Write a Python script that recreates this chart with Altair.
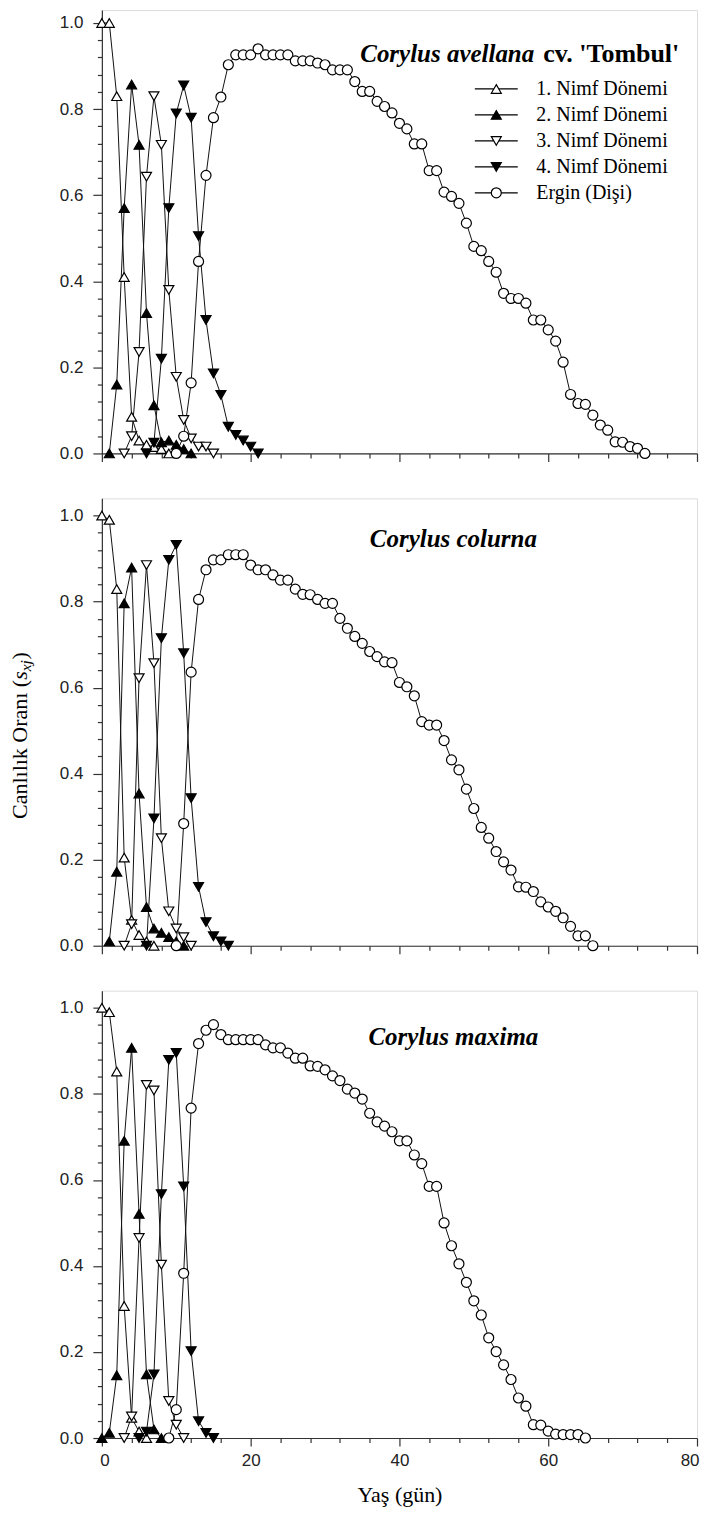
import altair as alt
import pandas as pd

SERIES = ["1. Nimf Dönemi", "2. Nimf Dönemi", "3. Nimf Dönemi", "4. Nimf Dönemi", "Ergin (Dişi)"]
SHAPES = ["triangle-up", "triangle-up", "triangle-down", "triangle-down", "circle"]
FILLS = ["white", "black", "white", "black", "white"]
STROKES = ["black", "black", "black", "black", "black"]

# ---- Panel 1: Corylus avellana cv. 'Tombul' (first day, values per day)
TOMBUL_N1_START = 0
TOMBUL_N1 = [1.0, 1.0, 0.83, 0.41, 0.085, 0.03, 0.02, 0.015, 0.01, 0.0]
TOMBUL_N2_START = 1
TOMBUL_N2 = [0.0, 0.16, 0.57, 0.857, 0.717, 0.326, 0.112, 0.026, 0.03, 0.02, 0.01, 0.0]
TOMBUL_N3_START = 3
TOMBUL_N3 = [0.0, 0.04, 0.236, 0.643, 0.83, 0.717, 0.38, 0.178, 0.078, 0.035, 0.016, 0.016, 0.0]
TOMBUL_N4_START = 6
TOMBUL_N4 = [0.0, 0.025, 0.22, 0.57, 0.79, 0.855, 0.78, 0.505, 0.31, 0.186, 0.136, 0.062,
             0.043, 0.03, 0.016, 0.0]
TOMBUL_AD_START = 10
TOMBUL_AD = [0.0, 0.04, 0.164, 0.446, 0.646, 0.78, 0.828, 0.903, 0.926, 0.926,
             0.926, 0.94, 0.926, 0.926, 0.926, 0.926, 0.912, 0.912, 0.912, 0.907,
             0.903, 0.891, 0.891, 0.891, 0.864, 0.841, 0.841, 0.818, 0.806, 0.791,
             0.767, 0.754, 0.719, 0.719, 0.657, 0.657, 0.607, 0.597, 0.581, 0.535,
             0.481, 0.471, 0.446, 0.421, 0.372, 0.360, 0.360, 0.349, 0.310, 0.310,
             0.287, 0.261, 0.212, 0.137, 0.116, 0.114, 0.089, 0.066, 0.054, 0.027,
             0.026, 0.016, 0.012, 0.0]

# ---- Panel 2: Corylus colurna
COLURNA_N1_START = 0
COLURNA_N1 = [1.0, 0.99, 0.829, 0.205, 0.06, 0.025, 0.01, 0.0]
COLURNA_N2_START = 1
COLURNA_N2 = [0.01, 0.172, 0.796, 0.879, 0.354, 0.09, 0.04, 0.03, 0.02, 0.01, 0.0]
COLURNA_N3_START = 3
COLURNA_N3 = [0.0, 0.05, 0.622, 0.885, 0.657, 0.25, 0.08, 0.04, 0.02, 0.0]
COLURNA_N4_START = 6
COLURNA_N4 = [0.0, 0.296, 0.715, 0.897, 0.932, 0.68, 0.343, 0.137, 0.055, 0.022, 0.01, 0.0]
COLURNA_AD_START = 10
COLURNA_AD = [0.0, 0.284, 0.636, 0.805, 0.874, 0.897, 0.897, 0.909, 0.909, 0.909,
              0.885, 0.874, 0.874, 0.862, 0.85, 0.85, 0.829, 0.817, 0.816, 0.805,
              0.796, 0.796, 0.761, 0.738, 0.719, 0.703, 0.684, 0.672, 0.660, 0.658,
              0.612, 0.602, 0.581, 0.521, 0.513, 0.513, 0.477, 0.432, 0.409, 0.364,
              0.319, 0.275, 0.250, 0.219, 0.195, 0.176, 0.137, 0.136, 0.126, 0.102,
              0.09, 0.08, 0.065, 0.045, 0.023, 0.023, 0.0]

# ---- Panel 3: Corylus maxima
MAXIMA_N1_START = 0
MAXIMA_N1 = [1.0, 0.99, 0.852, 0.307, 0.047, 0.015, 0.0]
MAXIMA_N2_START = 0
MAXIMA_N2 = [0.0, 0.012, 0.146, 0.691, 0.907, 0.521, 0.148, 0.02, 0.0]
MAXIMA_N3_START = 3
MAXIMA_N3 = [0.0, 0.05, 0.465, 0.821, 0.808, 0.403, 0.086, 0.031, 0.0]
MAXIMA_N4_START = 5
MAXIMA_N4 = [0.0, 0.015, 0.148, 0.567, 0.879, 0.895, 0.585, 0.202, 0.039, 0.012, 0.0]
MAXIMA_AD_START = 9
MAXIMA_AD = [0.0, 0.066, 0.383, 0.767, 0.917, 0.948, 0.961, 0.938, 0.926, 0.926,
             0.926, 0.926, 0.926, 0.914, 0.907, 0.907, 0.895, 0.883, 0.883, 0.865,
             0.864, 0.856, 0.842, 0.831, 0.811, 0.802, 0.788, 0.755, 0.735, 0.725,
             0.712, 0.691, 0.691, 0.658, 0.638, 0.585, 0.585, 0.500, 0.447, 0.405,
             0.362, 0.319, 0.286, 0.233, 0.201, 0.170, 0.136, 0.093, 0.074, 0.031,
             0.030, 0.016, 0.009, 0.008, 0.008, 0.008, 0.0]

X_MAJOR = [0, 20, 40, 60, 80]
X_MINOR = [4, 8, 12, 16, 24, 28, 32, 36, 44, 48, 52, 56, 64, 68, 72, 76]
Y_MAJOR = [0.0, 0.2, 0.4, 0.6, 0.8, 1.0]
Y_MINOR = [0.04, 0.08, 0.12, 0.16, 0.24, 0.28, 0.32, 0.36, 0.44, 0.48, 0.52, 0.56,
           0.64, 0.68, 0.72, 0.76, 0.84, 0.88, 0.92, 0.96]

TITLE1_ITALIC = "Corylus avellana"
TITLE1_PLAIN = "cv. 'Tombul'"
TITLE2 = "Corylus colurna"
TITLE3 = "Corylus maxima"
YTITLE_PARTS = ["Canlılık Oranı (", "s", "xj", ")"]
XTITLE = "Yaş (gün)"

SANS = "Liberation Sans"
SERIF = "Liberation Serif"
AXIS_COLOR = "#333333"
W = 596
MSIZE = 100

# legend symbols: line stub + marker (custom SVG paths in unit coordinates)
STUB_T = "M-4.3,0L-0.5,0M0.5,0L4.3,0"
STUB_C = "M-4.3,0L-1,0M1,0L4.3,0"
TRI_UP = "M0,-0.866L1,0.866L-1,0.866Z"
TRI_DN = "M0,0.866L1,-0.866L-1,-0.866Z"
CIRC = "M1,0A1,1,0,1,1,-1,0A1,1,0,1,1,1,0Z"
LEGEND_PATHS = [STUB_T + TRI_UP, STUB_T + TRI_UP, STUB_T + TRI_DN, STUB_T + TRI_DN, STUB_C + CIRC]


def frames(spec):
    out = []
    for name, (start, vals) in zip(SERIES, spec):
        out.append(pd.DataFrame({"series": name,
                                 "day": [start + i for i in range(len(vals))],
                                 "s": vals}))
    return out


def text_layer(text, x, y, size, style="normal", weight="bold", align="center",
               angle=0, dx=0, dy=0):
    return alt.Chart(pd.DataFrame({"t": [text]})).mark_text(
        align=align, baseline="alphabetic", font=SERIF, fontSize=size,
        fontStyle=style, fontWeight=weight, angle=angle, dx=dx, dy=dy, color="black"
    ).encode(x=alt.value(x), y=alt.value(y), text="t:N")


def make_panel(dfs, height, ymax, bottom_labels, extra_layers):
    xs = alt.Scale(domain=[0, 80], nice=False, zero=False)
    ys = alt.Scale(domain=[0, ymax], nice=False, zero=False)
    x_enc = alt.X("day:Q", scale=xs, axis=alt.Axis(
        values=X_MAJOR, tickSize=8, labels=bottom_labels, grid=False,
        labelFlush=True, labelFlushOffset=2,
        title=XTITLE if bottom_labels else None, labelFont=SANS, labelFontSize=17,
        labelColor="#222222", labelPadding=7, titleFont=SERIF, titleFontSize=22,
        titleFontWeight="normal", titleColor="black", titlePadding=16,
        domainColor=AXIS_COLOR, tickColor=AXIS_COLOR, domainWidth=1.2, tickWidth=1.2))
    y_enc = alt.Y("s:Q", scale=ys, axis=alt.Axis(
        values=Y_MAJOR, format=".1f", tickSize=9, grid=False, title=None, labelFlush=False,
        labelFont=SANS, labelFontSize=17, labelColor="#222222", labelPadding=10,
        domainColor=AXIS_COLOR, tickColor=AXIS_COLOR, domainWidth=1.2, tickWidth=1.2))
    all_df = pd.concat(dfs, ignore_index=True)
    lines = alt.Chart(all_df).mark_line(color="#111111", strokeWidth=1).encode(
        x=x_enc, y=y_enc, detail="series:N")
    pts = []
    for df, shape, fill in zip(dfs, SHAPES, FILLS):
        pts.append(alt.Chart(df).mark_point(
            shape=shape, filled=True, fill=fill, stroke="black", strokeWidth=1.2,
            size=MSIZE, opacity=1).encode(x="day:Q", y="s:Q"))
    main = alt.layer(lines, *pts, *extra_layers)
    minor = alt.Chart(all_df).mark_point(opacity=0, size=1).encode(
        x=alt.X("day:Q", axis=alt.Axis(orient="bottom", values=X_MINOR, tickSize=4.5,
                                       labels=False, domain=False, grid=False, title=None,
                                       tickColor=AXIS_COLOR, tickWidth=1.2)),
        y=alt.Y("s:Q", axis=alt.Axis(orient="left", values=Y_MINOR, tickSize=4.5,
                                     labels=False, domain=False, grid=False, title=None,
                                     tickColor=AXIS_COLOR, tickWidth=1.2)))
    return alt.layer(main, minor).resolve_axis(x="independent", y="independent").properties(
        width=W, height=height)


leg_props = dict(title=None, orient="none", legendX=385, legendY=69, labelFont=SERIF,
                 labelFontSize=20, labelColor="black", symbolSize=MSIZE, symbolStrokeWidth=1.2,
                 labelOffset=30, rowPadding=6, padding=0)
legend_layer = alt.Chart(pd.DataFrame({"series": SERIES})).transform_filter("false").mark_point(
    filled=True, strokeWidth=1.2, opacity=1, size=MSIZE).encode(
    shape=alt.Shape("series:N", scale=alt.Scale(domain=SERIES, range=LEGEND_PATHS),
                    legend=alt.Legend(**leg_props)),
    fill=alt.Fill("series:N", scale=alt.Scale(domain=SERIES, range=FILLS),
                  legend=alt.Legend(**leg_props)),
    stroke=alt.Stroke("series:N", scale=alt.Scale(domain=SERIES, range=STROKES),
                      legend=alt.Legend(**leg_props)))

p1_dfs = frames([(TOMBUL_N1_START, TOMBUL_N1), (TOMBUL_N2_START, TOMBUL_N2),
                 (TOMBUL_N3_START, TOMBUL_N3), (TOMBUL_N4_START, TOMBUL_N4),
                 (TOMBUL_AD_START, TOMBUL_AD)])
p2_dfs = frames([(COLURNA_N1_START, COLURNA_N1), (COLURNA_N2_START, COLURNA_N2),
                 (COLURNA_N3_START, COLURNA_N3), (COLURNA_N4_START, COLURNA_N4),
                 (COLURNA_AD_START, COLURNA_AD)])
p3_dfs = frames([(MAXIMA_N1_START, MAXIMA_N1), (MAXIMA_N2_START, MAXIMA_N2),
                 (MAXIMA_N3_START, MAXIMA_N3), (MAXIMA_N4_START, MAXIMA_N4),
                 (MAXIMA_AD_START, MAXIMA_AD)])

t1 = [text_layer(TITLE1_ITALIC, 433, 52, 25, style="italic", align="right"),
      text_layer(TITLE1_PLAIN, 442, 52, 26, align="left"),
      legend_layer]
t2 = [text_layer(TITLE2, 352, 49, 25, style="italic")]
# rotated y-axis title made of pieces (normal, italic s, italic subscript xj, normal)
YT_X, YT_Y, YT_F, YT_SUB = -75, 321, 22, 15.5
W0 = 6.333 * YT_F
W1 = W0 + 0.389 * YT_F
W2 = W1 + 0.722 * YT_SUB
t2 += [
    text_layer(YTITLE_PARTS[0], YT_X, YT_Y, YT_F, weight="normal", align="left", angle=270),
    text_layer(YTITLE_PARTS[1], YT_X, YT_Y, YT_F, style="italic", weight="normal", align="left",
               angle=270, dx=W0),
    text_layer(YTITLE_PARTS[2], YT_X, YT_Y, YT_SUB, style="italic", weight="normal",
               align="left", angle=270, dx=W1, dy=4),
    text_layer(YTITLE_PARTS[3], YT_X, YT_Y, YT_F, weight="normal", align="left", angle=270,
               dx=W2 + 0.5),
]
t3 = [text_layer(TITLE3, 352, 54, 25, style="italic")]

panel1 = make_panel(p1_dfs, 444, 1.03, False, t1)
panel2 = make_panel(p2_dfs, 448, 1.04, False, t2)
panel3 = make_panel(p3_dfs, 448, 1.04, True, t3)

chart = alt.vconcat(panel1, panel2, panel3, spacing=45, bounds="flush").properties(
    padding={"left": 0, "top": 0, "right": 0, "bottom": 0}, background="white"
).configure_view(stroke=AXIS_COLOR, strokeWidth=1.2).configure(font=SANS)

chart.save("out.html", embed_options={"renderer": "svg", "actions": False})
